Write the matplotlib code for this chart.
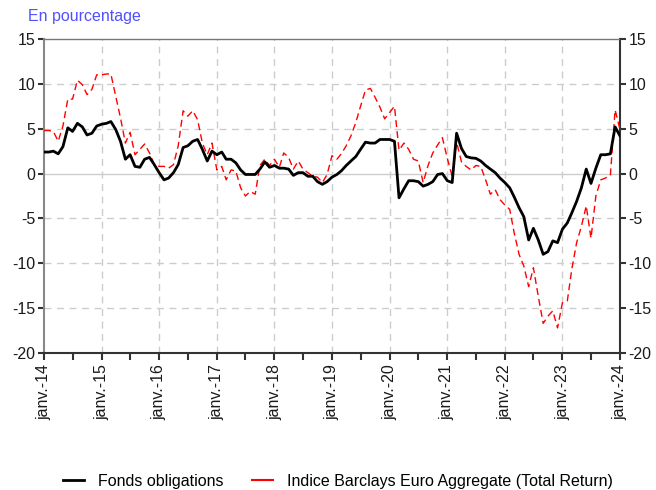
import matplotlib
matplotlib.use("Agg")
import matplotlib.pyplot as plt
import matplotlib.dates as mdates
from matplotlib.lines import Line2D
import pandas as pd

plt.rcParams['font.family'] = ['Liberation Sans', 'DejaVu Sans']

fonds = [
    2.4, 2.4, 2.5, 2.2, 3.0, 5.1, 4.7, 5.6, 5.2, 4.3, 4.5, 5.3,
    5.5, 5.6, 5.8, 4.9, 3.6, 1.6, 2.1, 0.8, 0.7, 1.6, 1.8, 1.0,
    0.1, -0.7, -0.5, 0.1, 1.0, 2.9, 3.1, 3.6, 3.8, 2.7, 1.4, 2.5,
    2.1, 2.4, 1.6, 1.6, 1.2, 0.4, -0.1, -0.1, -0.1, 0.5, 1.3, 0.7,
    0.9, 0.6, 0.6, 0.5, -0.2, 0.1, 0.1, -0.3, -0.3, -0.9, -1.2, -0.9,
    -0.4, -0.1, 0.3, 0.9, 1.4, 1.9, 2.7, 3.5, 3.4, 3.4, 3.8, 3.8,
    3.8, 3.6, -2.7, -1.7, -0.8, -0.8, -0.9, -1.4, -1.2, -0.9, -0.1, 0.0,
    -0.8, -1.0, 4.5, 2.8, 1.9, 1.75, 1.7, 1.4, 0.9, 0.5, 0.1, -0.5,
    -1.0, -1.6, -2.6, -3.8, -4.8, -7.4, -6.1, -7.4, -9.0, -8.7, -7.5, -7.7,
    -6.2, -5.5, -4.4, -3.1, -1.6, 0.5, -1.1, 0.6, 2.1, 2.1, 2.2, 5.2,
    4.2,
]

indice = [
    4.8, 4.8, 4.7, 3.6, 5.3, 8.3, 8.3, 10.4, 9.9, 8.8, 9.4, 11.0,
    11.0, 11.1, 11.1, 8.6, 6.2, 3.4, 4.6, 2.1, 2.7, 3.3, 2.3, 1.0,
    0.8, 0.8, 0.6, 1.0, 3.1, 7.0, 6.4, 7.0, 6.0, 3.4, 2.1, 3.4,
    0.4, 0.8, -0.7, 0.4, 0.3, -1.6, -2.5, -2.0, -2.3, 0.9, 1.6, 0.9,
    1.6, 0.7, 2.3, 1.8, 0.5, 1.4, 0.5, 0.1, -0.3, -0.4, -1.0, -0.1,
    2.0, 1.6, 2.2, 3.1, 4.2, 5.7, 7.5, 9.3, 9.5, 8.5, 7.4, 6.1,
    6.8, 7.5, 2.6, 3.4, 2.7, 1.6, 1.4, -1.0, 0.9, 2.3, 3.2, 4.0,
    1.7, -0.3, 3.5, 1.3, 0.8, 0.4, 0.9, 0.8, -0.7, -2.3, -1.8, -2.9,
    -3.5, -4.0, -6.6, -9.0, -10.3, -12.6, -10.5, -13.7, -16.7, -15.9, -15.3, -17.2,
    -14.4, -14.2, -10.7, -7.7, -5.9, -3.6, -7.2, -2.5, -0.7, -0.5, -0.2, 7.1,
    4.9,
]

dates = pd.date_range("2014-01-01", periods=len(fonds), freq="MS")
tick_labels = ["janv.-14", "janv.-15", "janv.-16", "janv.-17", "janv.-18", "janv.-19",
               "janv.-20", "janv.-21", "janv.-22", "janv.-23", "janv.-24"]
yticks = [15, 10, 5, 0, -5, -10, -15, -20]

FS = 11.5

fig = plt.figure(figsize=(6.56, 4.90), dpi=100)
ax = fig.add_axes([44/656, 1-353/490, (620-44)/656, (353-39)/490])

tick_dates = pd.date_range("2014-01-01", periods=len(tick_labels), freq="12MS")
grid_col = "#cccccc"
for d in tick_dates[1:-1]:
    ax.axvline(d, color=grid_col, lw=1.0, ls=(0, (5, 4)), zorder=1)
for v in yticks:
    if v == 0:
        ax.axhline(v, color=grid_col, lw=1.0, zorder=1)
    elif v not in (15, -20):
        ax.axhline(v, color=grid_col, lw=1.0, ls=(0, (5, 4)), zorder=1)

ax.plot(dates, indice, color="#ff0000", lw=1.0, ls=(0, (5, 3)), zorder=3)
ax.plot(dates, fonds, color="black", lw=2.0, zorder=4)

ax.set_xlim(dates[0], dates[-1])
ax.set_ylim(-20, 15)
ax.set_yticks(yticks)
ax.set_yticklabels([str(v) for v in yticks])
ax.set_xticks(tick_dates)
ax.set_xticklabels(tick_labels, rotation=90, fontsize=FS, color="#1a1a1a")
ax.xaxis.set_minor_locator(mdates.MonthLocator(bymonth=7))
ax.tick_params(axis="x", which="major", length=5, width=1.5, color="#333333", pad=3)
ax.tick_params(axis="x", which="minor", length=5, width=1.5, color="#333333")
ax.tick_params(axis="y", length=4, width=1.5, color="#333333", labelsize=FS, labelcolor="#1a1a1a", pad=2)

ax.spines["left"].set_color("#888888")
ax.spines["left"].set_linewidth(1.5)
ax.spines["bottom"].set_color("#333333")
ax.spines["bottom"].set_linewidth(1.5)
ax.spines["top"].set_color("#777777")
ax.spines["top"].set_linewidth(1.0)
ax.spines["right"].set_color("#333333")
ax.spines["right"].set_linewidth(1.5)

ax2 = ax.twinx()
ax2.set_ylim(-20, 15)
ax2.set_yticks(yticks)
ax2.set_yticklabels([str(v) for v in yticks])
ax2.tick_params(axis="y", length=4, width=1.5, color="#333333", labelsize=FS, labelcolor="#1a1a1a", pad=2)
for s in ax2.spines.values():
    s.set_visible(False)

fig.text(28/656, 1-17/490, "En pourcentage", color="#5050ff", fontsize=FS, va="center", ha="left")

handles = [Line2D([], [], color="black", lw=2.0),
           Line2D([], [], color="#ff0000", lw=1.5)]
fig.legend(handles, ["Fonds obligations", "Indice Barclays Euro Aggregate (Total Return)"],
           loc="center", bbox_to_anchor=(338/656, 1-481/490), ncol=2, frameon=False,
           fontsize=FS, handlelength=1.3, columnspacing=1.8, handletextpad=0.9)

fig.savefig("out.png", dpi=100)
